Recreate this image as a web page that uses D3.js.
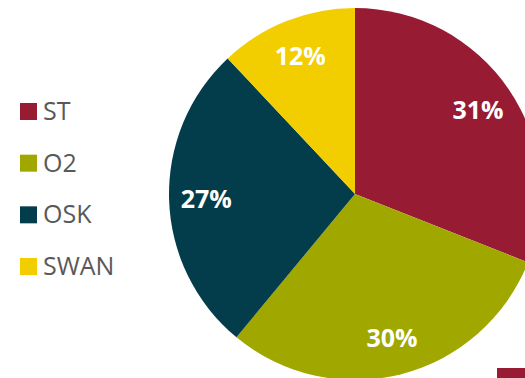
<!DOCTYPE html>
<html>
<head>
<meta charset="utf-8">
<script src="https://cdn.jsdelivr.net/npm/d3@7"></script>
<style>
  body { margin: 0; background: #fff; }
  svg { display: block; }
</style>
</head>
<body>
<div id="chart"></div>
<script>
// Data
const categories = ["ST", "O2", "OSK", "SWAN"];
const shares = [31, 30, 27, 12];
const colors = ["#971B32", "#A0A800", "#033C4A", "#F2CD00"];

const width = 525;
const height = 378;
const cx = 355, cy = 194, radius = 186;

const svg = d3.select("#chart")
  .append("svg")
  .attr("width", width)
  .attr("height", height);

const color = d3.scaleOrdinal().domain(categories).range(colors);

const pie = d3.pie().sort(null).value(d => d.value);
const arcs = pie(categories.map((c, i) => ({ name: c, value: shares[i] })));

const arc = d3.arc().innerRadius(0).outerRadius(radius);
const labelArc = d3.arc().innerRadius(radius * 0.8).outerRadius(radius * 0.8);

const g = svg.append("g").attr("transform", `translate(${cx},${cy})`);

g.selectAll("path")
  .data(arcs)
  .enter()
  .append("path")
  .attr("d", arc)
  .attr("fill", d => color(d.data.name));

g.selectAll("text")
  .data(arcs)
  .enter()
  .append("text")
  .attr("transform", d => `translate(${labelArc.centroid(d)})`)
  .attr("text-anchor", "middle")
  .attr("dy", "0.36em")
  .style("font-family", "'Open Sans', sans-serif")
  .style("font-weight", "bold")
  .style("font-size", "25px")
  .style("fill", "#fff")
  .text(d => d.data.value + "%");

// Legend
const legendY = d3.scalePoint().domain(categories).range([120, 275]);

const legend = svg.append("g")
  .selectAll("g")
  .data(categories)
  .enter()
  .append("g")
  .attr("transform", d => `translate(20,${legendY(d)})`);

legend.append("rect")
  .attr("x", 0)
  .attr("y", -17)
  .attr("width", 17)
  .attr("height", 17)
  .attr("fill", d => color(d));

legend.append("text")
  .attr("x", 23)
  .attr("y", 0)
  .style("font-family", "'Open Sans', sans-serif")
  .style("font-size", "25px")
  .style("fill", "#595959")
  .text(d => d);

// cut-off marker at bottom right
svg.append("rect")
  .attr("x", 497)
  .attr("y", 368)
  .attr("width", 28)
  .attr("height", 10)
  .attr("fill", color("ST"));
</script>
</body>
</html>
